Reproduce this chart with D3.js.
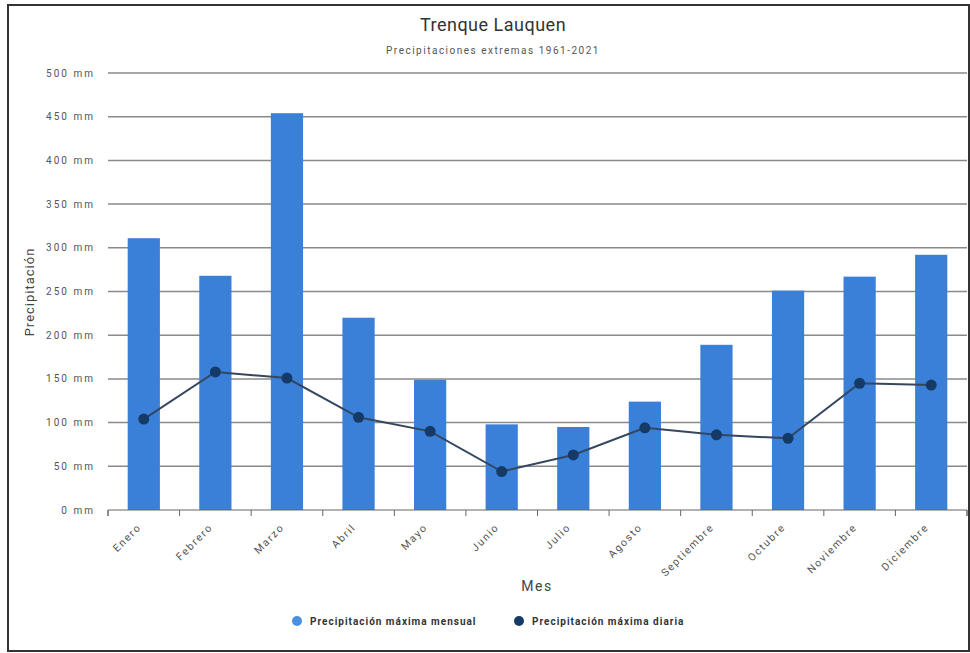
<!DOCTYPE html>
<html>
<head>
<meta charset="utf-8">
<script src="https://cdnjs.cloudflare.com/ajax/libs/d3/7.8.5/d3.min.js"></script>
<style>
  body { margin: 0; background: #fff; }
  text { font-family: Roboto, "Noto Sans", sans-serif; }
</style>
</head>
<body>
<div id="visual"></div>
<script>
var w = 970, h = 653;

// data
var meses = ["Enero", "Febrero", "Marzo", "Abril", "Mayo", "Junio", "Julio",
             "Agosto", "Septiembre", "Octubre", "Noviembre", "Diciembre"];
var maxMensual = [311, 268, 454, 220, 149, 98, 95, 124, 189, 251, 267, 292];
var maxDiaria = [104, 158, 151, 106, 90, 44, 63, 94, 86, 82, 145, 143];
var yTicks = [0, 50, 100, 150, 200, 250, 300, 350, 400, 450, 500];

var margin = {left: 108, right: 3, top: 73, bottom: 143};

var svg = d3.select("#visual").append("svg")
  .attr("width", w)
  .attr("height", h);

svg.append("rect")
  .attr("x", 8).attr("y", 5)
  .attr("width", 961).attr("height", 646)
  .attr("fill", "#fff")
  .attr("stroke", "#333")
  .attr("stroke-width", 2);

var x = d3.scaleBand()
  .domain(meses)
  .range([margin.left, w - margin.right])
  .paddingInner(0.55)
  .paddingOuter(0.275);

var y = d3.scaleLinear()
  .domain([0, 500])
  .range([h - margin.bottom, margin.top]);

// gridlines
svg.append("g")
  .selectAll("line")
  .data(yTicks.filter(function(d){ return d > 0; }))
  .enter().append("line")
    .attr("x1", margin.left).attr("x2", w - margin.right)
    .attr("y1", function(d){ return y(d); })
    .attr("y2", function(d){ return y(d); })
    .attr("stroke", "#8a8a8a")
    .attr("stroke-width", 1.5);

// y labels
svg.append("g")
  .selectAll("text")
  .data(yTicks)
  .enter().append("text")
    .attr("x", 95)
    .attr("y", function(d){ return y(d); })
    .attr("dy", "0.35em")
    .attr("text-anchor", "end")
    .attr("font-size", 10)
    .attr("letter-spacing", 2)
    .attr("fill", "#555")
    .text(function(d){ return d + " mm"; });

// bars
svg.append("g")
  .selectAll("rect")
  .data(meses)
  .enter().append("rect")
    .attr("x", function(d){ return x(d); })
    .attr("y", function(d, i){ return y(maxMensual[i]); })
    .attr("width", x.bandwidth())
    .attr("height", function(d, i){ return y(0) - y(maxMensual[i]); })
    .attr("fill", "#3a7fd8");

// x axis: baseline with ticks at band boundaries
var gx = svg.append("g")
  .attr("transform", "translate(0," + y(0) + ")");
gx.append("path")
  .attr("fill", "none")
  .attr("stroke", "#666")
  .attr("d", "M" + margin.left + ",6V0H" + (w - margin.right) + "V6");
gx.selectAll("line.sep")
  .data(d3.range(meses.length + 1))
  .enter().append("line")
    .attr("class", "sep")
    .attr("x1", function(i){ return margin.left + i * x.step(); })
    .attr("x2", function(i){ return margin.left + i * x.step(); })
    .attr("y1", 0).attr("y2", 6)
    .attr("stroke", "#666");

svg.append("g")
  .selectAll("text")
  .data(meses)
  .enter().append("text")
    .attr("transform", function(d){
      return "translate(" + (x(d) + x.bandwidth() / 2 - 2) + "," + (y(0) + 18) + ") rotate(-45)";
    })
    .attr("text-anchor", "end")
    .attr("font-size", 10.5)
    .attr("letter-spacing", 1.6)
    .attr("fill", "#555")
    .text(function(d){ return d; });

// line
var line = d3.line()
  .x(function(d, i){ return x(meses[i]) + x.bandwidth() / 2; })
  .y(function(d){ return y(d); });

svg.append("path")
  .datum(maxDiaria)
  .attr("d", line)
  .attr("fill", "none")
  .attr("stroke", "#34475e")
  .attr("stroke-width", 2);

svg.append("g")
  .selectAll("circle")
  .data(maxDiaria)
  .enter().append("circle")
    .attr("cx", function(d, i){ return x(meses[i]) + x.bandwidth() / 2; })
    .attr("cy", function(d){ return y(d); })
    .attr("r", 5.5)
    .attr("fill", "#153a66");

// titles
svg.append("text")
  .attr("x", 493).attr("y", 31)
  .attr("text-anchor", "middle")
  .attr("font-size", 18)
  .attr("letter-spacing", 0.5)
  .attr("fill", "#333")
  .text("Trenque Lauquen");

svg.append("text")
  .attr("x", 493).attr("y", 54)
  .attr("text-anchor", "middle")
  .attr("font-size", 10)
  .attr("letter-spacing", 1.5)
  .attr("fill", "#555")
  .text("Precipitaciones extremas 1961-2021");

svg.append("text")
  .attr("transform", "translate(34,292) rotate(-90)")
  .attr("text-anchor", "middle")
  .attr("font-size", 13)
  .attr("letter-spacing", 1)
  .attr("fill", "#444")
  .text("Precipitación");

svg.append("text")
  .attr("x", 537).attr("y", 591)
  .attr("text-anchor", "middle")
  .attr("font-size", 14)
  .attr("letter-spacing", 1.5)
  .attr("fill", "#444")
  .text("Mes");

// legend
var legend = [
  {label: "Precipitación máxima mensual", color: "#4a8fe0", x: 297},
  {label: "Precipitación máxima diaria", color: "#153a66", x: 519}
];
var lg = svg.append("g").selectAll("g")
  .data(legend)
  .enter().append("g")
    .attr("transform", function(d){ return "translate(" + d.x + ",621)"; });
lg.append("circle")
  .attr("r", 5)
  .attr("fill", function(d){ return d.color; });
lg.append("text")
  .attr("x", 13)
  .attr("dy", "0.35em")
  .attr("font-size", 10)
  .attr("font-weight", "bold")
  .attr("letter-spacing", 1)
  .attr("fill", "#333")
  .text(function(d){ return d.label; });
</script>
</body>
</html>
